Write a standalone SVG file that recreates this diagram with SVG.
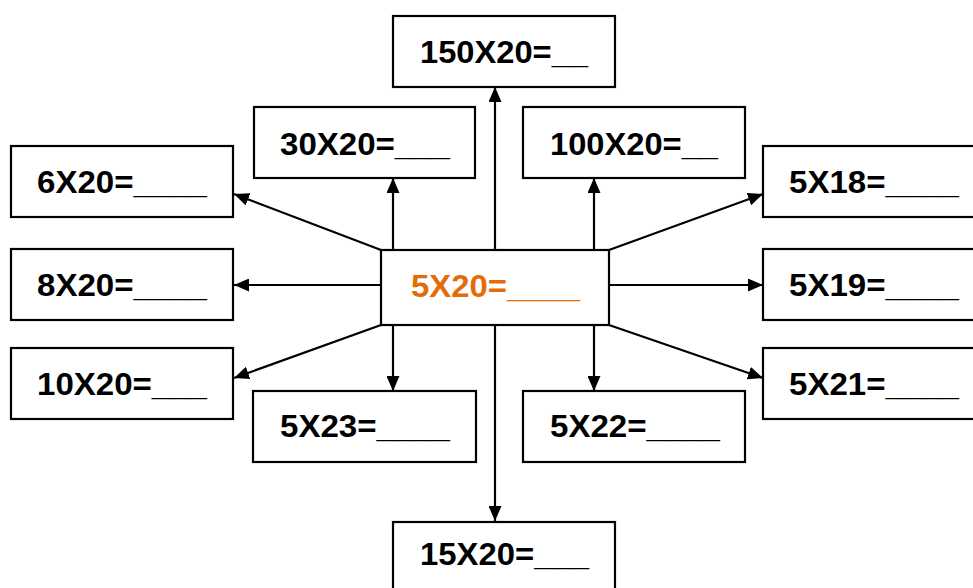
<svg xmlns="http://www.w3.org/2000/svg" width="973" height="588" viewBox="0 0 973 588">
<style>
.box{fill:#fff;stroke:#000;stroke-width:2.2}
.t{font-family:"Liberation Sans",Arial,sans-serif;font-weight:bold;font-size:32px;fill:#000}
.c{fill:#E36C0A}
.ln{stroke:#000;stroke-width:2.2;fill:none;marker-end:url(#ah)}
</style>
<defs>
<marker id="ah" viewBox="0 0 15 13" refX="15" refY="6.5" markerWidth="15" markerHeight="13" markerUnits="userSpaceOnUse" orient="auto">
<path d="M0,0 L15,6.5 L0,13 Z" fill="#000"/>
</marker>
</defs>
<rect width="973" height="588" fill="#fff"/>
<g id="connectors">
<line class="ln" x1="495" y1="250" x2="495" y2="87"/>
<line class="ln" x1="393" y1="250" x2="393" y2="178"/>
<line class="ln" x1="594" y1="250" x2="594" y2="178"/>
<line class="ln" x1="381" y1="250" x2="234" y2="194"/>
<line class="ln" x1="381" y1="285" x2="234" y2="285"/>
<line class="ln" x1="381" y1="325" x2="234" y2="378"/>
<line class="ln" x1="609" y1="250" x2="763" y2="194"/>
<line class="ln" x1="609" y1="285" x2="763" y2="285"/>
<line class="ln" x1="609" y1="325" x2="763" y2="378"/>
<line class="ln" x1="393" y1="325" x2="393" y2="391"/>
<line class="ln" x1="594" y1="325" x2="594" y2="391"/>
<line class="ln" x1="495" y1="325" x2="495" y2="521"/>
</g>
<g id="center"><rect class="box" x="381" y="250" width="228" height="75"/><text class="t c" x="411" y="297" textLength="169" lengthAdjust="spacingAndGlyphs">5X20=____</text></g>
<g id="n150"><rect class="box" x="393" y="16" width="222" height="71"/><text class="t" x="420" y="63" textLength="168" lengthAdjust="spacingAndGlyphs">150X20=__</text></g>
<g id="n30"><rect class="box" x="254" y="107" width="221" height="71"/><text class="t" x="280" y="155" textLength="170" lengthAdjust="spacingAndGlyphs">30X20=___</text></g>
<g id="n100"><rect class="box" x="523" y="107" width="222" height="71"/><text class="t" x="550" y="155" textLength="168" lengthAdjust="spacingAndGlyphs">100X20=__</text></g>
<g id="n6"><rect class="box" x="11" y="146" width="222" height="71"/><text class="t" x="37" y="193" textLength="170" lengthAdjust="spacingAndGlyphs">6X20=____</text></g>
<g id="n8"><rect class="box" x="11" y="249" width="222" height="71"/><text class="t" x="37" y="296" textLength="170" lengthAdjust="spacingAndGlyphs">8X20=____</text></g>
<g id="n10"><rect class="box" x="11" y="348" width="222" height="71"/><text class="t" x="37" y="395" textLength="170" lengthAdjust="spacingAndGlyphs">10X20=___</text></g>
<g id="n518"><rect class="box" x="763" y="146" width="222" height="71"/><text class="t" x="789" y="193" textLength="170" lengthAdjust="spacingAndGlyphs">5X18=____</text></g>
<g id="n519"><rect class="box" x="763" y="249" width="222" height="71"/><text class="t" x="789" y="296" textLength="170" lengthAdjust="spacingAndGlyphs">5X19=____</text></g>
<g id="n521"><rect class="box" x="763" y="348" width="222" height="71"/><text class="t" x="789" y="395" textLength="170" lengthAdjust="spacingAndGlyphs">5X21=____</text></g>
<g id="n523"><rect class="box" x="253" y="391" width="223" height="71"/><text class="t" x="280" y="437" textLength="170" lengthAdjust="spacingAndGlyphs">5X23=____</text></g>
<g id="n522"><rect class="box" x="523" y="391" width="222" height="71"/><text class="t" x="550" y="437" textLength="170" lengthAdjust="spacingAndGlyphs">5X22=____</text></g>
<g id="n15"><rect class="box" x="393" y="522" width="222" height="80"/><text class="t" x="420" y="565" textLength="169" lengthAdjust="spacingAndGlyphs">15X20=___</text></g>
</svg>
